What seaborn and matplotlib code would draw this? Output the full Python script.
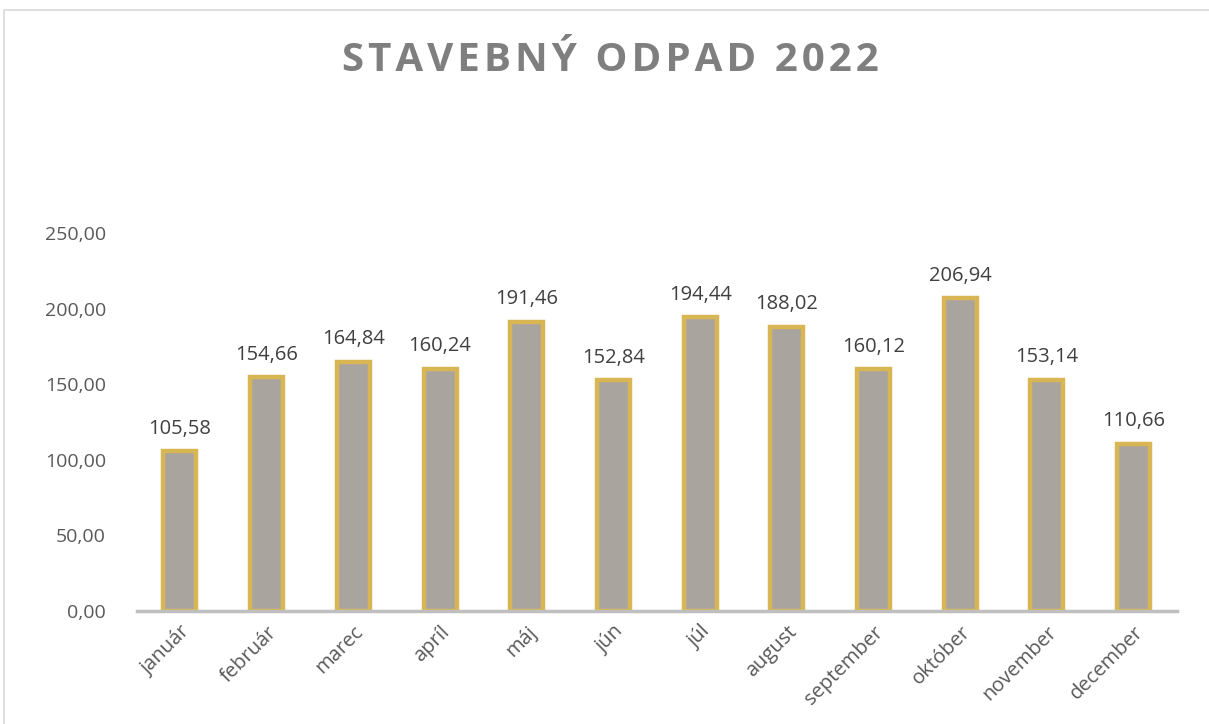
import pandas as pd
import seaborn as sns
import matplotlib.pyplot as plt
from matplotlib.patches import Rectangle

# Data
mesiace = ["január", "február", "marec", "apríl", "máj", "jún",
           "júl", "august", "september", "október", "november", "december"]
odpad = [105.58, 154.66, 164.84, 160.24, 191.46, 152.84,
         194.44, 188.02, 160.12, 206.94, 153.14, 110.66]
y_ticks = [0, 50, 100, 150, 200, 250]

df = pd.DataFrame({"mesiac": mesiace, "odpad": odpad})

sns.set_theme(style="white")
plt.rcParams['font.family'] = ['Open Sans', 'DejaVu Sans']

fig = plt.figure(figsize=(12.09, 7.24), dpi=100)
ax = fig.add_axes([0.113, 0.156, 0.8605, 0.522])

sns.barplot(data=df, x="mesiac", y="odpad", ax=ax, width=0.38,
            color="#AAA49E", edgecolor="#D9B654", linewidth=3.2, saturation=1)

# data labels, slovensky format s ciarkou
for i, v in enumerate(odpad):
    ax.annotate(f"{v:.2f}".replace(".", ","), (i, v), xytext=(0, 9),
                textcoords="offset points", ha="center", va="bottom",
                fontsize=14.5, color="#404040")

ax.set_ylim(0, 250)
ax.set_xlim(-0.5, 11.5)
ax.set_yticks(y_ticks)
ax.set_yticklabels([f"{t:.2f}".replace(".", ",") for t in y_ticks],
                   fontsize=14, color="#595959")
ax.set_xticks(range(len(mesiace)))
ax.set_xticklabels(mesiace, rotation=45, ha="right", rotation_mode="anchor",
                   fontsize=14.5, color="#595959")
ax.tick_params(axis="y", length=0, pad=22)
ax.tick_params(axis="x", length=0, pad=8)
ax.set_xlabel("")
ax.set_ylabel("")

for s in ["top", "right", "left"]:
    ax.spines[s].set_visible(False)
ax.spines["bottom"].set_color("#BFBFBF")
ax.spines["bottom"].set_linewidth(2.5)

titul = "\u200a".join("STAVEBNÝ ODPAD 2022")
fig.text(0.505, 0.917, titul, ha="center", va="center",
         fontsize=29, fontweight="bold", color="#7F7F7F")

# okraj grafu
fig.patches.append(Rectangle((0.003, -0.01), 1.1, 0.996, transform=fig.transFigure,
                             fill=False, edgecolor="#D9D9D9", linewidth=1.2))

fig.savefig("out.png", dpi=100)
